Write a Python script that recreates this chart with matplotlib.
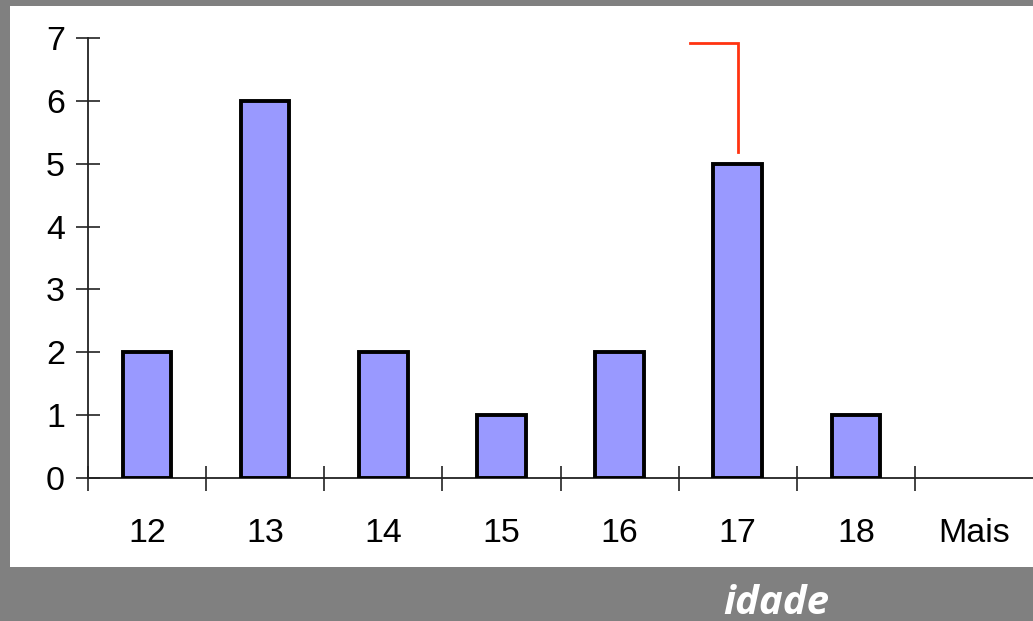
import matplotlib
matplotlib.use("Agg")
import matplotlib.pyplot as plt
from matplotlib.patches import Rectangle
from matplotlib.ticker import FixedLocator, NullFormatter, FixedFormatter

# Age histogram (frequency per age class)
categories = ["12", "13", "14", "15", "16", "17", "18", "Mais"]
counts = [2, 6, 2, 1, 2, 5, 1, 0]
y_ticks = [0, 1, 2, 3, 4, 5, 6, 7]
x_title = "idade"

W, H = 1033, 621
fig = plt.figure(figsize=(W / 100, H / 100), dpi=100)
fig.patch.set_facecolor("#808080")

# white chart panel
fig.patches.append(Rectangle((10 / W, 1 - 567 / H), 1 - 10 / W, (567 - 6) / H,
                             transform=fig.transFigure, facecolor="white",
                             edgecolor="none", zorder=-5))

ax = fig.add_axes([88 / W, 1 - 478 / H, 1 - 88 / W, (478 - 38) / H])
ax.set_facecolor("none")
ax.set_zorder(2)

pos = list(range(len(categories)))
edges = ["black" if c > 0 else "none" for c in counts]
ax.bar(pos, counts, width=0.41, color="#9999FF", edgecolor=edges,
       linewidth=2.8, zorder=3)

ax.set_xlim(-0.5, len(categories) - 0.5)
ax.set_ylim(0, 7)

for s in ["top", "right"]:
    ax.spines[s].set_visible(False)
for s in ["left", "bottom"]:
    ax.spines[s].set_linewidth(1.3)
    ax.spines[s].set_color("#222222")

font = "Liberation Sans"
ax.set_yticks(y_ticks)
ax.set_yticklabels([str(v) for v in y_ticks], fontsize=24.5, family=font)
ax.tick_params(axis="y", direction="inout", length=17, width=1.2, pad=8,
               colors="#222222", labelcolor="black")

# class boundaries carry the tick marks, class centres carry the labels
bounds = [p - 0.5 for p in pos]
ax.xaxis.set_major_locator(FixedLocator(bounds))
ax.xaxis.set_major_formatter(NullFormatter())
ax.xaxis.set_minor_locator(FixedLocator(pos))
ax.xaxis.set_minor_formatter(FixedFormatter(categories))
ax.tick_params(axis="x", which="major", direction="inout", length=18,
               width=1.2, colors="#222222")
ax.tick_params(axis="x", which="minor", length=0, pad=29, labelsize=24.5,
               labelcolor="black")
for lab in ax.get_xticklabels(minor=True):
    lab.set_family(font)

# red marker line pointing at the 17 class
ax.plot([4.597, 5.0, 5.0], [6.92, 6.92, 5.19], color="#FF3311",
        linewidth=2.0, solid_joinstyle="miter", clip_on=False, zorder=4)

fig.text(776 / W, 1 - 603 / H, x_title, color="white", fontsize=29,
         fontweight="bold", style="italic", family="Open Sans",
         ha="center", va="center")

fig.savefig("out.png", dpi=100, facecolor=fig.get_facecolor())
